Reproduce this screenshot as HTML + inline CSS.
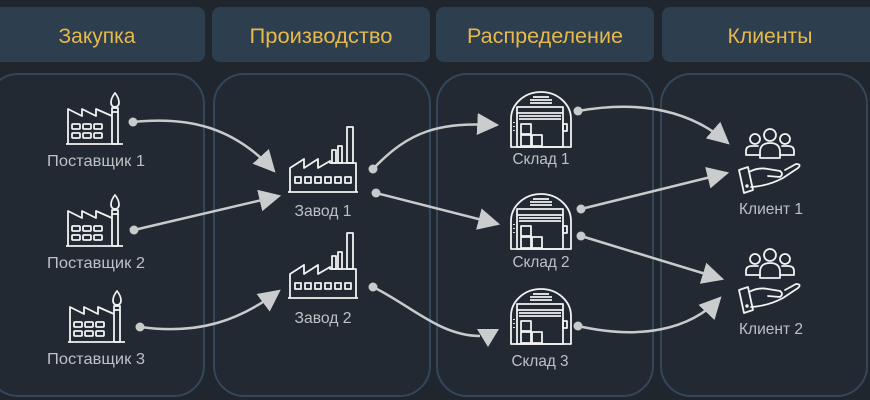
<!DOCTYPE html>
<html><head><meta charset="utf-8">
<style>
html,body{margin:0;padding:0;background:#20262e;}
svg{display:block;}
</style></head>
<body>
<svg width="870" height="400" viewBox="0 0 870 400" xmlns="http://www.w3.org/2000/svg">
<defs>
<marker id="ah" viewBox="0 0 10 10" refX="9" refY="5" markerWidth="22" markerHeight="22" markerUnits="userSpaceOnUse" orient="auto">
<path d="M0,0 L10,5 L0,10 z" fill="#cbcccd"/>
</marker>
<g id="sup" fill="none" stroke="#f2f2f2" stroke-width="1.8" stroke-linejoin="round">
<path d="M49,0 C45,5 45,8 45,10 A4,4 0 0 0 53,10 C53,8 53,5 49,0 Z"/>
<rect x="46" y="15" width="6" height="36"/>
<line x1="46" y1="19" x2="52" y2="19"/>
<path d="M2,51 V16 L16,23 V16 L30,23 V16 L46,23"/>
<rect x="6" y="31" width="8" height="5" rx="1"/><rect x="17" y="31" width="8" height="5" rx="1"/><rect x="28" y="31" width="8" height="5" rx="1"/>
<rect x="6" y="40" width="8" height="5" rx="1"/><rect x="17" y="40" width="8" height="5" rx="1"/><rect x="28" y="40" width="8" height="5" rx="1"/>
<line x1="0" y1="51" x2="57" y2="51"/>
</g>
<g id="fac" fill="none" stroke="#f2f2f2" stroke-width="1.8" stroke-linejoin="round">
<rect x="59" y="1" width="6" height="36"/>
<rect x="44" y="24" width="4" height="13"/>
<rect x="50" y="20" width="4" height="17"/>
<path d="M2,66 V42 L16,33 V42 L30,33 V42 L42,35 V37 H68 V66"/>
<rect x="7" y="51" width="6" height="6"/><rect x="17" y="51" width="6" height="6"/><rect x="27" y="51" width="6" height="6"/>
<rect x="37" y="51" width="6" height="6"/><rect x="47" y="51" width="6" height="6"/><rect x="57" y="51" width="6" height="6"/>
<line x1="0" y1="66" x2="70" y2="66"/>
</g>
<g id="wh" fill="none" stroke="#f2f2f2" stroke-width="1.8" stroke-linejoin="round">
<path d="M0,55 V27 A30,27 0 0 1 60,27 V55 Z"/>
<line x1="22" y1="5" x2="38" y2="5"/><line x1="19" y1="8" x2="41" y2="8"/><line x1="19" y1="11" x2="41" y2="11"/>
<rect x="6" y="15" width="46" height="40"/>
<line x1="6" y1="21" x2="52" y2="21"/>
<line x1="8" y1="24" x2="50" y2="24"/><line x1="8" y1="27" x2="50" y2="27"/>
<rect x="10" y="32" width="10" height="10"/>
<rect x="10" y="43" width="10" height="11"/>
<rect x="21" y="43" width="10" height="11"/>
<line x1="3" y1="30" x2="3" y2="31"/><line x1="3" y1="34" x2="3" y2="35"/><line x1="3" y1="38" x2="3" y2="39"/>
<rect x="52" y="32" width="4" height="7"/>
</g>
<g id="cl" fill="none" stroke="#f2f2f2" stroke-width="1.8" stroke-linejoin="round" stroke-linecap="round">
<circle cx="17" cy="11" r="5"/><circle cx="32" cy="7" r="6"/><circle cx="47" cy="11" r="5"/>
<path d="M22,30 V24 Q22,15 32,15 Q42,15 42,24 V30 Z"/>
<path d="M22,27 H8 V23 Q8,18 14,18 H20"/>
<path d="M42,27 H56 V23 Q56,18 50,18 H44"/>
<path d="M1,42 L10,39 L15,62 L6,65 Z"/>
<circle cx="9" cy="58" r="0.8"/>
<path d="M11,44 Q20,39 30,41 L42,43 Q46,46 42,49 L30,48"/>
<path d="M13,59 Q30,58 45,50 L60,40 Q64,36 58,36 L47,42"/>
</g>
</defs>

<!-- headers -->
<g fill="#2d3e4f">
<rect x="-12" y="7" width="217" height="55" rx="8"/>
<rect x="212" y="7" width="218" height="55" rx="8"/>
<rect x="436" y="7" width="218" height="55" rx="8"/>
<rect x="662" y="7" width="218" height="55" rx="8"/>
</g>
<g font-family="Liberation Sans, sans-serif" font-size="21" fill="#e7b94b" text-anchor="middle">
<text x="97" y="43" textLength="77" lengthAdjust="spacingAndGlyphs">Закупка</text>
<text x="321" y="43" textLength="143" lengthAdjust="spacingAndGlyphs">Производство</text>
<text x="545" y="43" textLength="156" lengthAdjust="spacingAndGlyphs">Распределение</text>
<text x="770" y="43" textLength="85" lengthAdjust="spacingAndGlyphs">Клиенты</text>
</g>

<!-- panels -->
<g fill="#222932" stroke="#33475a" stroke-width="2">
<rect x="-12" y="74" width="216" height="322" rx="30"/>
<rect x="214" y="74" width="216" height="322" rx="30"/>
<rect x="437" y="74" width="216" height="322" rx="30"/>
<rect x="661" y="74" width="206" height="322" rx="30"/>
</g>

<!-- connectors -->
<g fill="none" stroke="#c9cacb" stroke-width="2.5">
<path d="M133,122 C190,116 235,128 274,171" marker-end="url(#ah)"/>
<path d="M134,230 L279,196" marker-end="url(#ah)"/>
<path d="M140,327 C200,335 240,320 279,291" marker-end="url(#ah)"/>
<path d="M373,169 C410,130 440,122 497,125" marker-end="url(#ah)"/>
<path d="M376,193 L498,224" marker-end="url(#ah)"/>
<path d="M373,287 C410,305 440,336 480,336"/>
<path d="M578,111 C640,100 690,110 728,143" marker-end="url(#ah)"/>
<path d="M581,209 L727,173" marker-end="url(#ah)"/>
<path d="M581,236 L722,279" marker-end="url(#ah)"/>
<path d="M578,326 C640,340 690,330 720,298" marker-end="url(#ah)"/>
</g>
<polygon points="477,329 499,329 488,347" fill="#cbcccd"/>
<g fill="#c9cacb">
<circle cx="133" cy="122" r="4.5"/><circle cx="134" cy="230" r="4.5"/><circle cx="140" cy="327" r="4.5"/>
<circle cx="373" cy="169" r="4.5"/><circle cx="376" cy="193" r="4.5"/><circle cx="373" cy="287" r="4.5"/>
<circle cx="578" cy="111" r="4.5"/><circle cx="581" cy="209" r="4.5"/><circle cx="581" cy="236" r="4.5"/><circle cx="578" cy="326" r="4.5"/>
</g>

<!-- icons -->
<use href="#sup" x="66" y="93"/>
<use href="#sup" x="66" y="195"/>
<use href="#sup" x="68" y="291"/>
<use href="#fac" x="288" y="126"/>
<use href="#fac" x="288" y="232"/>
<use href="#wh" x="511" y="92"/>
<use href="#wh" x="511" y="194"/>
<use href="#wh" x="511" y="289"/>
<use href="#cl" x="738" y="128"/>
<use href="#cl" x="738" y="248"/>

<!-- labels -->
<g font-family="Liberation Sans, sans-serif" font-size="16" fill="#bcc1c6" text-anchor="middle">
<text x="96" y="166" textLength="98" lengthAdjust="spacingAndGlyphs">Поставщик 1</text>
<text x="96" y="268" textLength="98" lengthAdjust="spacingAndGlyphs">Поставщик 2</text>
<text x="96" y="364" textLength="98" lengthAdjust="spacingAndGlyphs">Поставщик 3</text>
<text x="323" y="216" textLength="57" lengthAdjust="spacingAndGlyphs">Завод 1</text>
<text x="323" y="323" textLength="57" lengthAdjust="spacingAndGlyphs">Завод 2</text>
<text x="541" y="164" textLength="57" lengthAdjust="spacingAndGlyphs">Склад 1</text>
<text x="541" y="267" textLength="57" lengthAdjust="spacingAndGlyphs">Склад 2</text>
<text x="540" y="366" textLength="57" lengthAdjust="spacingAndGlyphs">Склад 3</text>
<text x="771" y="214" textLength="64" lengthAdjust="spacingAndGlyphs">Клиент 1</text>
<text x="771" y="334" textLength="64" lengthAdjust="spacingAndGlyphs">Клиент 2</text>
</g>
</svg>
</body></html>
